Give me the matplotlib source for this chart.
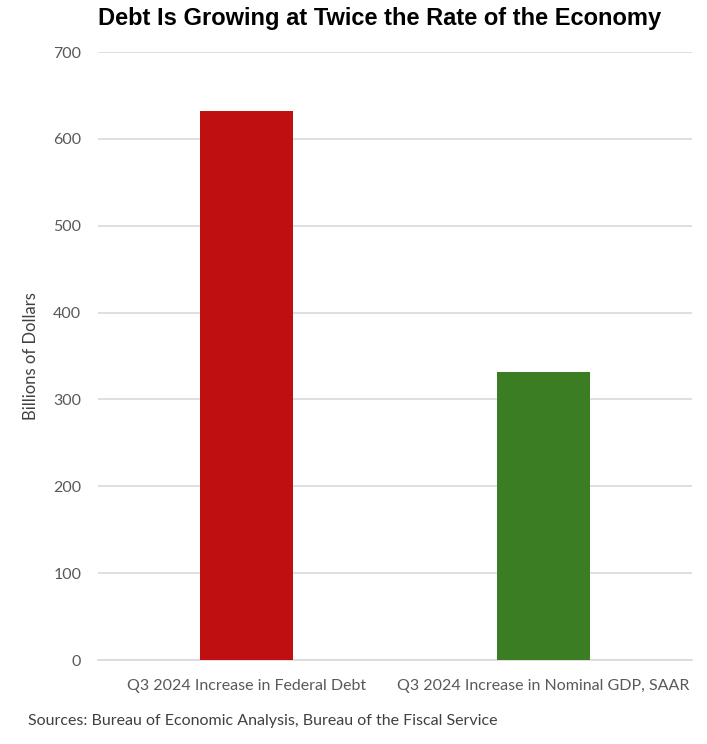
import matplotlib
matplotlib.use("Agg")
import matplotlib.pyplot as plt

categories = ["Q3 2024 Increase in Federal Debt", "Q3 2024 Increase in Nominal GDP, SAAR"]
values = [632, 332]
colors = ["#C00F10", "#3A7D22"]
yticks = [0, 100, 200, 300, 400, 500, 600, 700]

fig = plt.figure(figsize=(7.07, 7.44), dpi=100)
ax = fig.add_axes([98/707, 1-660/744, 594/707, 608/744])

x = range(len(categories))
ax.bar(x, values, width=0.313, color=colors, zorder=3)
ax.set_xlim(-0.5, 1.5)
ax.set_ylim(0, 700)
ax.set_yticks(yticks)
ax.yaxis.grid(True, color="#D9D9D9", linewidth=1.2, zorder=0)
for s in ["top", "right", "left"]:
    ax.spines[s].set_visible(False)
ax.spines["bottom"].set_color("#D9D9D9")
ax.spines["bottom"].set_linewidth(1.2)
ax.tick_params(axis="both", length=0, labelsize=11.5, colors="#595959", pad=12)
ax.set_xticks(list(x))
ax.set_xticklabels(categories, fontfamily="Lato")
for t in ax.get_yticklabels():
    t.set_fontfamily("Lato")
ax.tick_params(axis="x", pad=14)
ax.set_ylabel("Billions of Dollars", fontsize=12, color="#404040", fontfamily="Lato", labelpad=10)

fig.text(380/707, 1-18/744, "Debt Is Growing at Twice the Rate of the Economy",
         ha="center", va="center", fontsize=17, fontweight="heavy",
         fontfamily="Liberation Sans", color="black")
fig.text(28/707, 1-721/744, "Sources: Bureau of Economic Analysis, Bureau of the Fiscal Service",
         ha="left", va="center", fontsize=11.5, fontfamily="Lato", color="#404040")

fig.savefig("out.png", dpi=100)
